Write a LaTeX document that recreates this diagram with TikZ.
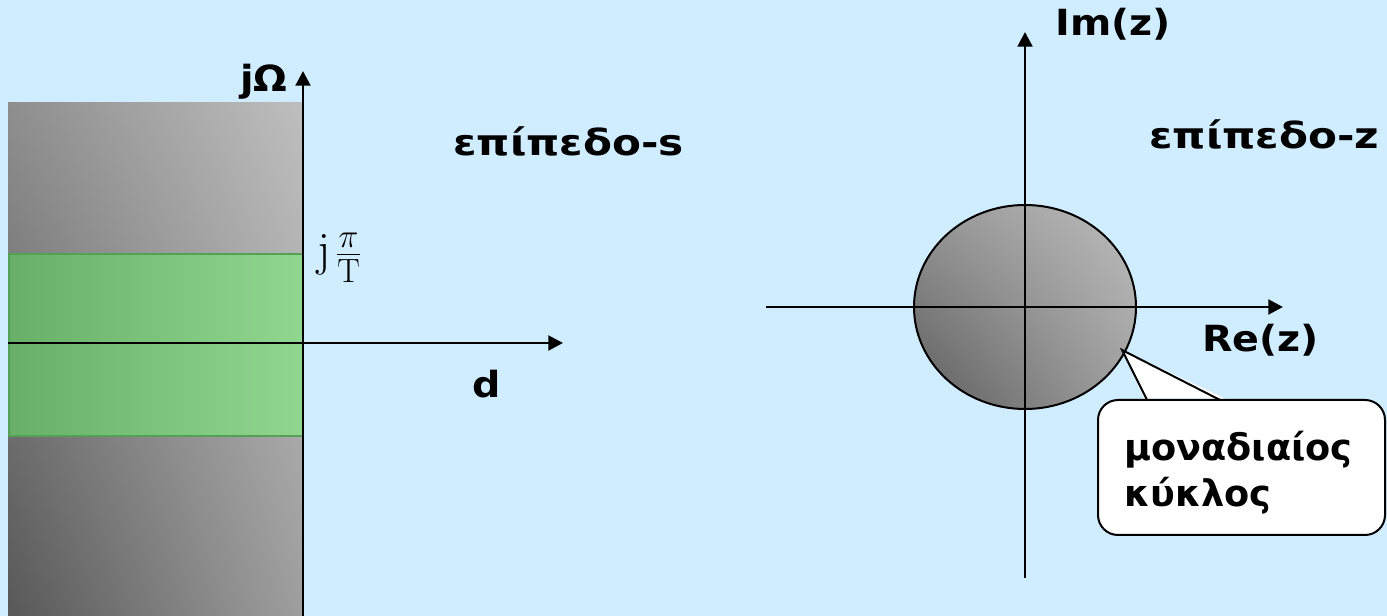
\RequirePackage{fix-cm}
\documentclass[tikz,border=0pt]{standalone}
\usepackage{fontspec}
\usetikzlibrary{arrows.meta,shadings,calc}
\newfontfamily\lab{DejaVu Sans}[FakeStretch=1.1]
\newfontfamily\labg{DejaVu Sans}[FakeStretch=1.17]
\newfontfamily\labc{DejaVu Sans}
\definecolor{bg}{RGB}{208,236,255}
\definecolor{gTL}{RGB}{142,142,142}
\definecolor{gTR}{RGB}{190,190,190}
\definecolor{gBL}{RGB}{88,88,88}
\definecolor{gBR}{RGB}{158,158,158}
\definecolor{cTL}{RGB}{150,150,150}
\definecolor{cTR}{RGB}{188,188,188}
\definecolor{cBL}{RGB}{92,92,92}
\definecolor{cBR}{RGB}{160,160,160}
\definecolor{grL}{RGB}{104,176,104}
\definecolor{grR}{RGB}{144,214,144}
\definecolor{grEdge}{RGB}{84,160,84}
\begin{document}
\begin{tikzpicture}[x=0.75pt,y=0.75pt,
  lbl/.style={anchor=base west, inner sep=0pt, font=\lab\bfseries\fontsize{27}{35}\selectfont},
  glbl/.style={anchor=base west, inner sep=0pt, font=\labg\bfseries\fontsize{27}{35}\selectfont},
  clbl/.style={anchor=base west, inner sep=0pt, font=\labc\bfseries\fontsize{27.5}{35}\selectfont},
  axis/.style={line width=2.2pt, -{Triangle[length=11pt,width=11pt]}},
  callbox/.style={draw=black, line width=1.5pt, fill=white, rounded corners=15pt}]
\fill[bg] (0,0) rectangle (1387,616);
\useasboundingbox (0,0) rectangle (1387,616);
% s-plane
\shade[upper left=gTL, upper right=gTR, lower left=gBL, lower right=gBR] (8,0) rectangle (303,513);
\shade[left color=grL, right color=grR, draw=grEdge, line width=1pt] (9,180) rectangle (303,362);
\coordinate (sy0) at (303,0);
\coordinate (sy1) at (303,545);
\coordinate (sx0) at (8,273);
\coordinate (sx1) at (563,273);
\draw[axis] (sx0) -- (sx1);
\draw[axis] (sy0) -- (sy1);
\node[lbl] (jw) at (240,524) {jΩ};
\node[anchor=base west, inner sep=0pt, font=\fontsize{36}{42}\selectfont] (jpt) at (317,350) {$\mathrm{j}\mkern2mu\frac{\pi}{\mathrm{T}}$};
\node[glbl] (splane) at (453,460) {επίπεδο-s};
\node[lbl] (d) at (472,218) {d};
% z-plane
\shade[upper left=cTL, upper right=cTR, lower left=cBL, lower right=cBR, draw=black, line width=1.5pt] (1025,309) ellipse [x radius=111, y radius=102];
\coordinate (zy0) at (1025,38);
\coordinate (zy1) at (1025,584);
\coordinate (zx0) at (766,309);
\coordinate (zx1) at (1283,309);
\draw[axis] (zx0) -- (zx1);
\draw[axis] (zy0) -- (zy1);
\node[lbl] (im) at (1055,580) {Im(z)};
\node[glbl] (zplane) at (1149,467) {επίπεδο-z};
\node[lbl] (re) at (1202,264) {Re(z)};
% callout
\coordinate (tip) at (1122,266);
\coordinate (b1) at (1147,216);
\coordinate (b2) at (1220,216);
\draw[callbox] (1098,81) rectangle (1385,216);
\fill[white] ($(b1)+(-3,1.5)$) -- (tip) -- ($(b2)+(5,1.5)$) -- cycle;
\draw[line width=1.5pt, line join=miter] (b1) -- (tip) -- (b2);
\node[clbl, align=left] (unit) at (1124,109) {μοναδιαίος\\κύκλος};
\end{tikzpicture}
\end{document}
